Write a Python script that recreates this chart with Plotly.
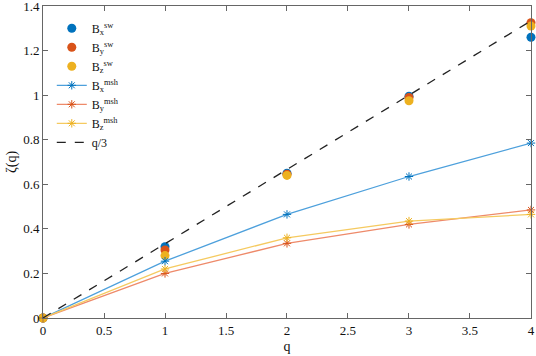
import plotly.graph_objects as go

q = [0, 1, 2, 3, 4]
bx_sw = [0, 0.32, 0.65, 0.995, 1.26]
by_sw = [0, 0.305, 0.645, 0.99, 1.325]
bz_sw = [0, 0.28, 0.64, 0.975, 1.31]
bx_msh = [0, 0.255, 0.465, 0.635, 0.785]
by_msh = [0, 0.2, 0.335, 0.42, 0.485]
bz_msh = [0, 0.22, 0.36, 0.435, 0.465]
q_line = [0, 4]
q3 = [v / 3 for v in q_line]

font = "Liberation Serif, Times New Roman, serif"
fig = go.Figure()
sw = [("B<sub>x</sub><sup>sw</sup>", bx_sw, "#0072BD"),
      ("B<sub>y</sub><sup>sw</sup>", by_sw, "#D95319"),
      ("B<sub>z</sub><sup>sw</sup>", bz_sw, "#EDB120")]
for name, ys, c in sw:
    fig.add_trace(go.Scatter(x=q, y=ys, mode="markers", name=name,
                             marker=dict(color=c, size=9), cliponaxis=False))
msh = [("B<sub>x</sub><sup>msh</sup>", bx_msh, "#0072BD", "#4DA0DC"),
       ("B<sub>y</sub><sup>msh</sup>", by_msh, "#D95319", "#EE8A6A"),
       ("B<sub>z</sub><sup>msh</sup>", bz_msh, "#EDB120", "#F5CA60")]
for name, ys, c, lc in msh:
    fig.add_trace(go.Scatter(x=q, y=ys, mode="lines+markers", name=name,
                             line=dict(color=lc, width=1.3), cliponaxis=False,
                             marker=dict(color=c, symbol="asterisk-open", size=7,
                                         line=dict(color=c, width=1))))
fig.add_trace(go.Scatter(x=q_line, y=q3, mode="lines", name="q/3",
                         line=dict(color="#222", width=1.3, dash="dash")))

axis_common = dict(showline=True, linecolor="#666", linewidth=1, mirror="ticks",
                   ticks="inside", ticklen=5, tickcolor="#666", showgrid=False,
                   zeroline=False, ticklabeloverflow="allow",
                   tickfont=dict(family=font, size=13, color="#111"))
fig.update_xaxes(range=[0, 4.0001], dtick=0.5, title=dict(text="q", font=dict(family=font, size=14, color="#111"), standoff=4),
                 **axis_common)
fig.update_yaxes(range=[0, 1.4001], dtick=0.2, title=dict(text="ζ(q)", font=dict(family=font, size=14, color="#111"), standoff=3),
                 **axis_common)
fig.update_layout(width=536, height=356, margin=dict(l=43, r=5, t=6, b=38, autoexpand=False),
                  plot_bgcolor="white", paper_bgcolor="white",
                  font=dict(family=font, size=12, color="#111"),
                  legend=dict(x=0.018, y=0.975, xanchor="left", yanchor="top",
                              bgcolor="rgba(0,0,0,0)", font=dict(family=font, size=12),
                              tracegroupgap=0, itemwidth=30))
fig.write_html("out.html", config={"displayModeBar": False},
               post_script="document.body.style.margin='0';document.body.style.overflow='hidden';")
